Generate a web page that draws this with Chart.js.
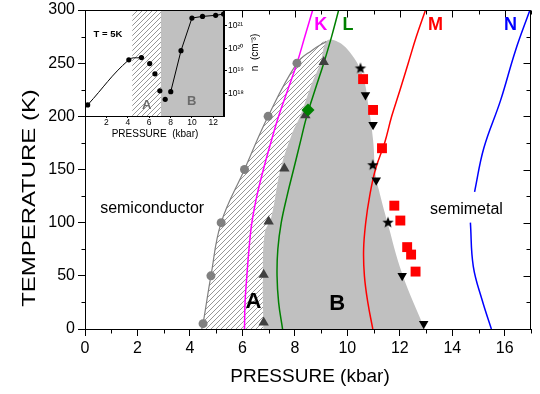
<!DOCTYPE html>
<html>
<head>
<meta charset="utf-8">
<script src="https://cdn.jsdelivr.net/npm/chart.js@4.4.1/dist/chart.umd.min.js"></script>
<style>
  body { margin: 0; background: #fff; }
  #wrap { position: relative; width: 540px; height: 394px; }
  #main { position: absolute; left: 0; top: 0; }
  #inset { position: absolute; left: 84px; top: 9px; }
</style>
</head>
<body>
<div id="wrap">
  <canvas id="main" width="540" height="394"></canvas>
  <canvas id="inset" width="178" height="134"></canvas>
</div>
<script>
// ---- main panel: T vs P (kbar, K) ----
const xTicks = [0, 2, 4, 6, 8, 10, 12, 14, 16];
const yTicks = [0, 50, 100, 150, 200, 250, 300];

// measured points
const circP = [4.5, 4.8, 5.19, 6.08, 6.98, 8.08];
const circT = [5, 50, 100, 150, 200, 250];
const triP = [6.81, 6.81, 7.0, 7.6, 8.4, 9.1];
const triT = [6, 51, 101, 151, 201, 251];
const diaP = [8.5];
const diaT = [206];
const starP = [10.5, 10.97, 11.55];
const starT = [245, 154, 100];
const downP = [10.69, 10.98, 11.1, 12.09, 12.91];
const downT = [220, 192, 140, 50, 5];
const sqP = [10.6, 10.98, 11.32, 11.79, 12.02, 12.28, 12.43, 12.6];
const sqT = [235, 206, 170, 116, 102, 77, 70, 54];

// phase boundaries
const outerP = [4.45, 4.5, 4.8, 5.19, 6.08, 6.98, 8.08, 8.65, 9.2];
const outerT = [0, 5, 50, 100, 150, 200, 250, 262, 270.5];
const innerP = [6.8, 6.78, 6.85, 7.1, 7.45, 7.9, 8.2, 8.65, 8.97, 9.2];
const innerT = [0, 50, 90, 105, 150, 184, 200, 231, 250, 270.5];
const rightP = [9.5, 10.0, 10.56, 10.81, 10.98, 11.07, 11.2, 11.51, 12.09, 12.95];
const rightT = [271.5, 263, 240, 209, 178, 146, 131, 102, 52, 0];

// K, L, M, N curves
const curveT = [0, 25, 50, 75, 100, 125, 150, 175, 200, 225, 250, 275, 300];
const kP = [6.08, 6.1, 6.17, 6.25, 6.36, 6.55, 6.8, 7.08, 7.38, 7.73, 8.08, 8.38, 8.68];
const lP = [7.53, 7.38, 7.32, 7.35, 7.48, 7.7, 7.95, 8.2, 8.45, 8.77, 9.1, 9.4, 9.67];
const mP = [10.97, 10.78, 10.65, 10.62, 10.7, 10.85, 11.07, 11.42, 11.69, 12.01, 12.32, 12.63, 12.98];
const nP = [15.49, 15.14, 14.8, 14.69, null, 14.85, 15.2, 15.84, 16.41, 16.96];
const nT = [0, 27, 59, 100, null, 129, 170, 215, 262, 300];

// ---- inset: n vs P at T = 5K ----
const insetXTicks = [0, 2, 4, 6, 8, 10, 12];
const insetYTicks = [1e18, 1e19, 1e20, 1e21];
const insetP = [0.25, 4.1, 5.28, 6.05, 6.54, 7.0, 7.5, 8.02, 8.98, 10.0, 10.99, 12.22, 12.96];
const insetN = [3.1e17, 3.1e19, 3.9e19, 2.1e19, 7.4e18, 1.3e18, 5.5e17, 1.2e18, 7.9e19, 2.2e21, 2.6e21, 2.9e21, 3.3e21];
const insetRegA = [4.42, 7.1];
const insetRegB = [7.1, 13];
const nMin = 1e17, nMax = 5e21;

const FONT = '"Liberation Sans", Arial, sans-serif';
Chart.defaults.font.family = FONT;
Chart.defaults.color = '#000';

const xy = (xs, ys) => xs.map((x, i) => ({ x: x, y: ys[i] }));

// keep the plot area exactly where the axis sizes put it
const noPad = s => { s.paddingTop = 0; s.paddingBottom = 0; s.paddingLeft = 0; s.paddingRight = 0; };

function hatch(ctx) {
  const s = 5;
  const c = document.createElement('canvas');
  c.width = s; c.height = s;
  const g = c.getContext('2d');
  g.strokeStyle = '#8a8a8a';
  g.lineWidth = 0.9;
  g.beginPath();
  g.moveTo(0, s); g.lineTo(s, 0);
  g.moveTo(-1, 1); g.lineTo(1, -1);
  g.moveTo(s - 1, s + 1); g.lineTo(s + 1, s - 1);
  g.stroke();
  return ctx.createPattern(c, 'repeat');
}

function starImg(r) {
  const c = document.createElement('canvas');
  c.width = c.height = 2 * r + 2;
  const g = c.getContext('2d');
  g.fillStyle = '#000';
  g.beginPath();
  for (let i = 0; i < 10; i++) {
    const rr = i % 2 ? r * 0.42 : r;
    const a = -Math.PI / 2 + i * Math.PI / 5;
    g.lineTo(r + 1 + rr * Math.cos(a), r + 1 + rr * Math.sin(a));
  }
  g.closePath();
  g.fill();
  return c;
}

function region(data, fill, order, tension) {
  return {
    data: data, showLine: true, fill: 'shape', backgroundColor: fill,
    borderColor: 'transparent', borderWidth: 0, pointRadius: 0,
    tension: tension, order: order
  };
}
function curve(data, color, order) {
  return {
    data: data, showLine: true, fill: false, borderColor: color, borderWidth: 1.5,
    pointRadius: 0, tension: 0.4, spanGaps: false, order: order
  };
}
function marks(data, style, color, r, order, rot) {
  return {
    data: data, showLine: false, pointStyle: style, pointRadius: r,
    pointBackgroundColor: color, pointBorderColor: color, pointBorderWidth: 0,
    pointRotation: rot || 0, order: order
  };
}

const mainCtx = document.getElementById('main').getContext('2d');
const hatchFill = hatch(mainCtx);

// ticks and frame (minor ticks, mirrored ticks on top/right)
const frame = {
  id: 'frame',
  afterDraw(chart) {
    const { ctx, chartArea: a, scales: { x, y } } = chart;
    const L = Math.round(a.left) + 0.5, R = Math.round(a.right) - 0.5;
    const T = Math.round(a.top) + 0.5, B = Math.round(a.bottom) + 0.5;
    ctx.save();
    ctx.strokeStyle = '#000';
    ctx.lineWidth = 1;
    ctx.beginPath();
    ctx.moveTo(L, B); ctx.lineTo(L, T); ctx.lineTo(R, T); ctx.lineTo(R, B); ctx.lineTo(L, B);
    for (let v = 0; v <= 17; v++) {
      const px = Math.round(x.getPixelForValue(v)) + 0.5;
      const len = v % 2 ? 4 : 7;
      if (v % 2) { ctx.moveTo(px, B); ctx.lineTo(px, B + len); }
      ctx.moveTo(px, T); ctx.lineTo(px, T + len);
    }
    for (let v = 0; v <= 300; v += 25) {
      const py = Math.round(y.getPixelForValue(v)) + 0.5;
      const len = v % 50 ? 4 : 7;
      if (v % 50) { ctx.moveTo(L, py); ctx.lineTo(L - len, py); }
      ctx.moveTo(R, py); ctx.lineTo(R - len, py);
    }
    ctx.stroke();

    const notes = [
      ['semiconductor', 2.56, 113, '16px', '#000'],
      ['semimetal', 14.54, 112, '16px', '#000'],
      ['A', 6.42, 25, 'bold 22px', '#000'],
      ['B', 9.61, 23.5, 'bold 22px', '#000'],
      ['K', 8.99, 286, 'bold 18px', '#ff00ff'],
      ['L', 10.02, 286, 'bold 18px', '#008000'],
      ['M', 13.36, 286, 'bold 18px', '#ff0000'],
      ['N', 16.22, 286, 'bold 18px', '#0000ff']
    ];
    ctx.textAlign = 'center';
    ctx.textBaseline = 'middle';
    notes.forEach(([t, px, ty, f, c]) => {
      ctx.font = f + ' ' + FONT;
      ctx.fillStyle = c;
      ctx.fillText(t, x.getPixelForValue(px), y.getPixelForValue(ty));
    });

    // axis titles
    ctx.fillStyle = '#000';
    ctx.font = '19px ' + FONT;
    ctx.fillText('PRESSURE (kbar)', 310, 377);
    ctx.translate(30, 198);
    ctx.rotate(-Math.PI / 2);
    ctx.scale(1.26, 1);
    ctx.fillText('TEMPERATURE (K)', 0, 0);
    ctx.restore();
  }
};

new Chart(mainCtx, {
  type: 'scatter',
  data: {
    datasets: [
      region(xy(outerP.concat(innerP.slice(0, -1).reverse()), outerT.concat(innerT.slice(0, -1).reverse())), hatchFill, 20, 0.4),
      region(xy(innerP.concat(rightP), innerT.concat(rightT)), '#c0c0c0', 19, 0.4),
      { data: xy(outerP, outerT), showLine: true, borderColor: '#808080', borderWidth: 1.2, pointRadius: 0, tension: 0.4, order: 18 },
      curve(xy(kP, curveT), '#ff00ff', 10),
      curve(xy(lP, curveT), '#008000', 10),
      curve(xy(mP, curveT), '#ff0000', 10),
      curve(xy(nP, nT).map(p => p.x === null ? { x: null, y: null } : p), '#0000ff', 10),
      marks(xy(circP, circT), 'circle', '#808080', 4.5, 5),
      marks(xy(triP, triT), 'triangle', '#404040', 6, 4),
      marks(xy(downP, downT), 'triangle', '#000', 5.5, 3, 180),
      marks(xy(sqP, sqT), 'rect', '#ff0000', 7, 3),
      marks(xy(starP, starT), starImg(6), '#000', 6, 2),
      marks(xy(diaP, diaT), 'rectRot', '#008000', 6.5, 1)
    ]
  },
  options: {
    responsive: false,
    animation: false,
    layout: { autoPadding: false, padding: { top: 10, right: 9, left: 0, bottom: 0 } },
    plugins: { legend: { display: false }, tooltip: { enabled: false } },
    scales: {
      x: {
        type: 'linear', min: 0, max: 17,
        afterBuildTicks: s => { s.ticks = xTicks.map(v => ({ value: v })); },
        afterFit: s => { s.height = 65; noPad(s); },
        ticks: { font: { size: 16 }, padding: 3, maxRotation: 0, autoSkip: false },
        grid: { drawOnChartArea: false, tickLength: 7, color: '#000' },
        border: { color: '#000' }
      },
      y: {
        type: 'linear', min: 0, max: 300,
        afterBuildTicks: s => { s.ticks = yTicks.map(v => ({ value: v })); },
        afterFit: s => { s.width = 85; noPad(s); },
        ticks: { font: { size: 16 }, padding: 3, autoSkip: false },
        grid: { drawOnChartArea: false, tickLength: 7, color: '#000' },
        border: { color: '#000' }
      }
    }
  },
  plugins: [frame]
});

// ---- inset ----
const SUP = { '0': '⁰', '1': '¹', '2': '²', '3': '³', '4': '⁴', '5': '⁵', '6': '⁶', '7': '⁷', '8': '⁸', '9': '⁹', '-': '⁻' };
const sup = n => String(n).split('').map(c => SUP[c]).join('');

const insetCtx = document.getElementById('inset').getContext('2d');
const insetHatch = hatch(insetCtx);

const insetFrame = {
  id: 'insetFrame',
  beforeDraw(chart) {
    const { ctx, chartArea: a } = chart;
    ctx.save();
    ctx.fillStyle = '#fff';
    ctx.fillRect(a.left, a.top, a.right - a.left, a.bottom - a.top);
    ctx.restore();
  },
  afterDraw(chart) {
    const { ctx, chartArea: a, scales: { x, y } } = chart;
    ctx.save();
    ctx.strokeStyle = '#000';
    ctx.lineWidth = 1;
    ctx.strokeRect(Math.round(a.left) + 0.5, Math.round(a.top) + 0.5,
      Math.round(a.right - a.left) - 1, Math.round(a.bottom - a.top));
    ctx.textAlign = 'center';
    ctx.textBaseline = 'middle';
    ctx.fillStyle = '#000';
    ctx.font = 'bold 9.5px ' + FONT;
    ctx.fillText('T = 5K', x.getPixelForValue(2.15), y.getPixelForValue(4e20));
    ctx.fillStyle = '#6b6b6b';
    ctx.font = 'bold 13px ' + FONT;
    ctx.fillText('A', x.getPixelForValue(5.77), y.getPixelForValue(3e17));
    ctx.fillText('B', x.getPixelForValue(9.97), y.getPixelForValue(4.4e17));
    ctx.fillStyle = '#000';
    ctx.font = '10px ' + FONT;
    ctx.fillText('PRESSURE  (kbar)', 71, 125);
    ctx.translate(171, 43.5);
    ctx.rotate(-Math.PI / 2);
    ctx.fillText('n  (cm⁻³)', 0, 0);
    ctx.restore();
  }
};

new Chart(insetCtx, {
  type: 'scatter',
  data: {
    datasets: [
      region(xy([insetRegA[0], insetRegA[0], insetRegA[1], insetRegA[1]], [nMin, nMax, nMax, nMin]), insetHatch, 20, 0),
      region(xy([insetRegB[0], insetRegB[0], insetRegB[1], insetRegB[1]], [nMin, nMax, nMax, nMin]), '#c0c0c0', 19, 0),
      { data: xy(insetP.slice(0, 3), insetN.slice(0, 3)), showLine: true, borderColor: '#000', borderWidth: 1, pointRadius: 0, tension: 0.4, order: 5 },
      { data: xy(insetP.slice(7), insetN.slice(7)), showLine: true, borderColor: '#000', borderWidth: 1, pointRadius: 0, tension: 0, order: 5 },
      marks(xy(insetP, insetN), 'circle', '#000', 2.6, 1)
    ]
  },
  options: {
    responsive: false,
    animation: false,
    layout: { autoPadding: false, padding: { top: 1, left: 1, right: 0, bottom: 0 } },
    plugins: { legend: { display: false }, tooltip: { enabled: false } },
    scales: {
      x: {
        type: 'linear', min: 0, max: 13,
        afterBuildTicks: s => { s.ticks = insetXTicks.map(v => ({ value: v })); },
        afterFit: s => { s.height = 27; noPad(s); },
        ticks: { font: { size: 8.5 }, padding: 0, maxRotation: 0, autoSkip: false, callback: v => v === 0 ? '' : String(v) },
        grid: { drawOnChartArea: false, tickLength: 2, color: '#000' },
        border: { color: '#000' }
      },
      y: {
        type: 'logarithmic', position: 'right', min: nMin, max: nMax,
        afterBuildTicks: s => { s.ticks = insetYTicks.map(v => ({ value: v })); },
        afterFit: s => { s.width = 38; noPad(s); },
        ticks: { font: { size: 8.5 }, padding: 1, autoSkip: false, callback: v => '10' + sup(Math.round(Math.log10(v))) },
        grid: { drawOnChartArea: false, tickLength: 3, color: '#000' },
        border: { color: '#000' }
      }
    }
  },
  plugins: [insetFrame]
});
</script>
</body>
</html>
